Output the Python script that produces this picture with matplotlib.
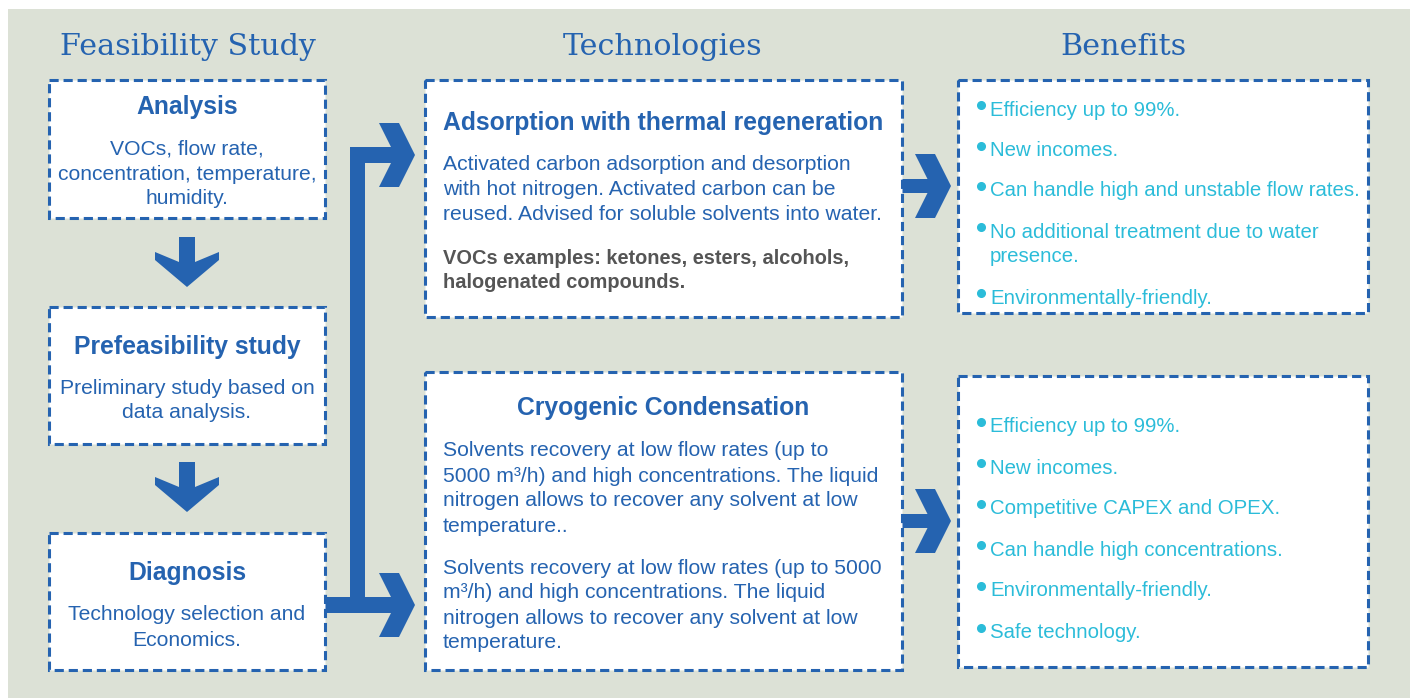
import matplotlib
matplotlib.use("Agg")
import matplotlib.pyplot as plt
from matplotlib.patches import Rectangle, Polygon

# ---------------- data (text content) ----------------
column_titles = ["Feasibility Study", "Technologies", "Benefits"]

step_titles = ["Analysis", "Prefeasibility study", "Diagnosis"]
step_bodies = [
    ["VOCs, flow rate,", "concentration, temperature,", "humidity."],
    ["Preliminary study based on", "data analysis."],
    ["Technology selection and", "Economics."],
]

tech_titles = ["Adsorption with thermal regeneration", "Cryogenic Condensation"]
tech1_body = ["Activated carbon adsorption and desorption",
              "with hot nitrogen. Activated carbon can be",
              "reused. Advised for soluble solvents into water."]
tech1_examples = ["VOCs examples: ketones, esters, alcohols,",
                  "halogenated compounds."]
tech2_para1 = ["Solvents recovery at low flow rates (up to",
               "5000 m³/h) and high concentrations. The liquid",
               "nitrogen allows to recover any solvent at low",
               "temperature.."]
tech2_para2 = ["Solvents recovery at low flow rates (up to 5000",
               "m³/h) and high concentrations. The liquid",
               "nitrogen allows to recover any solvent at low",
               "temperature."]

benefits_1 = ["Efficiency up to 99%.", "New incomes.",
              "Can handle high and unstable flow rates.",
              ["No additional treatment due to water", "presence."],
              "Environmentally-friendly."]
benefits_2 = ["Efficiency up to 99%.", "New incomes.",
              "Competitive CAPEX and OPEX.", "Can handle high concentrations.",
              "Environmentally-friendly.", "Safe technology."]

# ---------------- style ----------------
BG = "#dce1d6"
BLUE = "#2563b0"
CYAN = "#2bbcd9"
GREY = "#555555"
SANS = ["Liberation Sans", "DejaVu Sans"]
SERIF = ["DejaVu Serif"]
FS_BODY = 15.2
FS_TITLE = 17.8
FS_BUL = 14.7
DY = 2  # vertical text offset

W, H = 1410, 698
fig = plt.figure(figsize=(W / 100, H / 100), dpi=100)
fig.patch.set_facecolor("white")
ax = fig.add_axes([0, 0, 1, 1])
ax.set_xlim(0, W)
ax.set_ylim(H, 0)
ax.axis("off")

ax.add_patch(Rectangle((8, 9), W - 8, H - 9, facecolor=BG, edgecolor="none", zorder=0))


def box(x0, y0, x1, y1):
    ax.add_patch(Rectangle((x0, y0), x1 - x0, y1 - y0, facecolor="white",
                           edgecolor=BLUE, lw=2.2, linestyle=(0, (3, 1.6)),
                           zorder=2))


def lines(xs, y0, step, txts, **kw):
    for i, t in enumerate(txts):
        ax.text(xs, y0 + DY + i * step, t, va="center", zorder=3, **kw)


# column titles
for cx, t in zip([188, 663, 1123], column_titles):
    ax.text(cx, 47, t, ha="center", va="center", fontsize=21.7, color=BLUE,
            family=SERIF, fontweight="light", zorder=3)

# left step boxes
step_boxes = [(49, 80, 325, 218), (49, 307, 325, 444), (49, 533, 325, 670)]
title_y = [105, 345, 571]
body_y = [147, 386, 613]
for (b, ty, by, t, body) in zip(step_boxes, title_y, body_y, step_titles, step_bodies):
    box(*b)
    ax.text(187, ty + DY, t, ha="center", va="center", fontsize=FS_TITLE,
            fontweight="bold", color=BLUE, family=SANS, zorder=3)
    lines(187, by, 25, body, ha="center", fontsize=FS_BODY, color=BLUE, family=SANS)

# tech boxes
box(425, 80, 902, 317)
box(425, 372, 902, 670)
ax.text(663, 121 + DY, tech_titles[0], ha="center", va="center", fontsize=FS_TITLE,
        fontweight="bold", color=BLUE, family=SANS, zorder=3)
lines(443, 162, 25.5, tech1_body, ha="left", fontsize=FS_BODY, color=BLUE, family=SANS)
lines(443, 256, 25, tech1_examples, ha="left", fontsize=14.4, color=GREY,
      family=SANS, fontweight="bold")
ax.text(663, 406 + DY, tech_titles[1], ha="center", va="center", fontsize=FS_TITLE,
        fontweight="bold", color=BLUE, family=SANS, zorder=3)
lines(443, 449, 25, tech2_para1, ha="left", fontsize=FS_BODY, color=BLUE, family=SANS)
lines(443, 566, 25, tech2_para2, ha="left", fontsize=FS_BODY, color=BLUE, family=SANS)

# benefits boxes
box(958, 80, 1368, 313)
box(958, 376, 1368, 667)


def bullets(items, y_list):
    for it, y in zip(items, y_list):
        ax.plot([981], [y - 3], "o", ms=5.5, color=CYAN, zorder=3)
        txt = it if isinstance(it, list) else [it]
        lines(990, y, 25, txt, ha="left", fontsize=FS_BUL, color=CYAN, family=SANS)


bullets(benefits_1, [108, 149, 189, 230, 296])
bullets(benefits_2, [425, 466, 507, 548, 589, 631])

# ---------------- arrows ----------------
def down_arrow(cx, ytop):
    ax.add_patch(Polygon([(cx - 8, ytop), (cx + 8, ytop), (cx + 8, ytop + 25),
                          (cx + 32, ytop + 15), (cx + 32, ytop + 23),
                          (cx, ytop + 50), (cx - 32, ytop + 23),
                          (cx - 32, ytop + 15), (cx - 8, ytop + 25)],
                         closed=True, facecolor=BLUE, edgecolor="none", zorder=2))


down_arrow(187, 237)
down_arrow(187, 462)


def right_head(xback, ycen, half=32, depth=36, thick=20):
    ax.add_patch(Polygon([(xback, ycen - half), (xback + thick, ycen - half),
                          (xback + depth, ycen), (xback + thick, ycen + half),
                          (xback, ycen + half), (xback + depth - thick, ycen)],
                         closed=True, facecolor=BLUE, edgecolor="none", zorder=2))


# bracket connector
ax.add_patch(Rectangle((350, 147), 15, 466, facecolor=BLUE, edgecolor="none", zorder=1))
ax.add_patch(Rectangle((350, 147), 48, 16, facecolor=BLUE, edgecolor="none", zorder=1))
ax.add_patch(Rectangle((325, 597), 73, 16, facecolor=BLUE, edgecolor="none", zorder=1))
right_head(379, 155)
right_head(379, 605)

# arrows to benefits
ax.add_patch(Rectangle((902, 179), 30, 14, facecolor=BLUE, edgecolor="none", zorder=1))
right_head(915, 186)
ax.add_patch(Rectangle((902, 514), 30, 14, facecolor=BLUE, edgecolor="none", zorder=1))
right_head(915, 521)

fig.savefig("out.png", dpi=100, facecolor=fig.get_facecolor())
